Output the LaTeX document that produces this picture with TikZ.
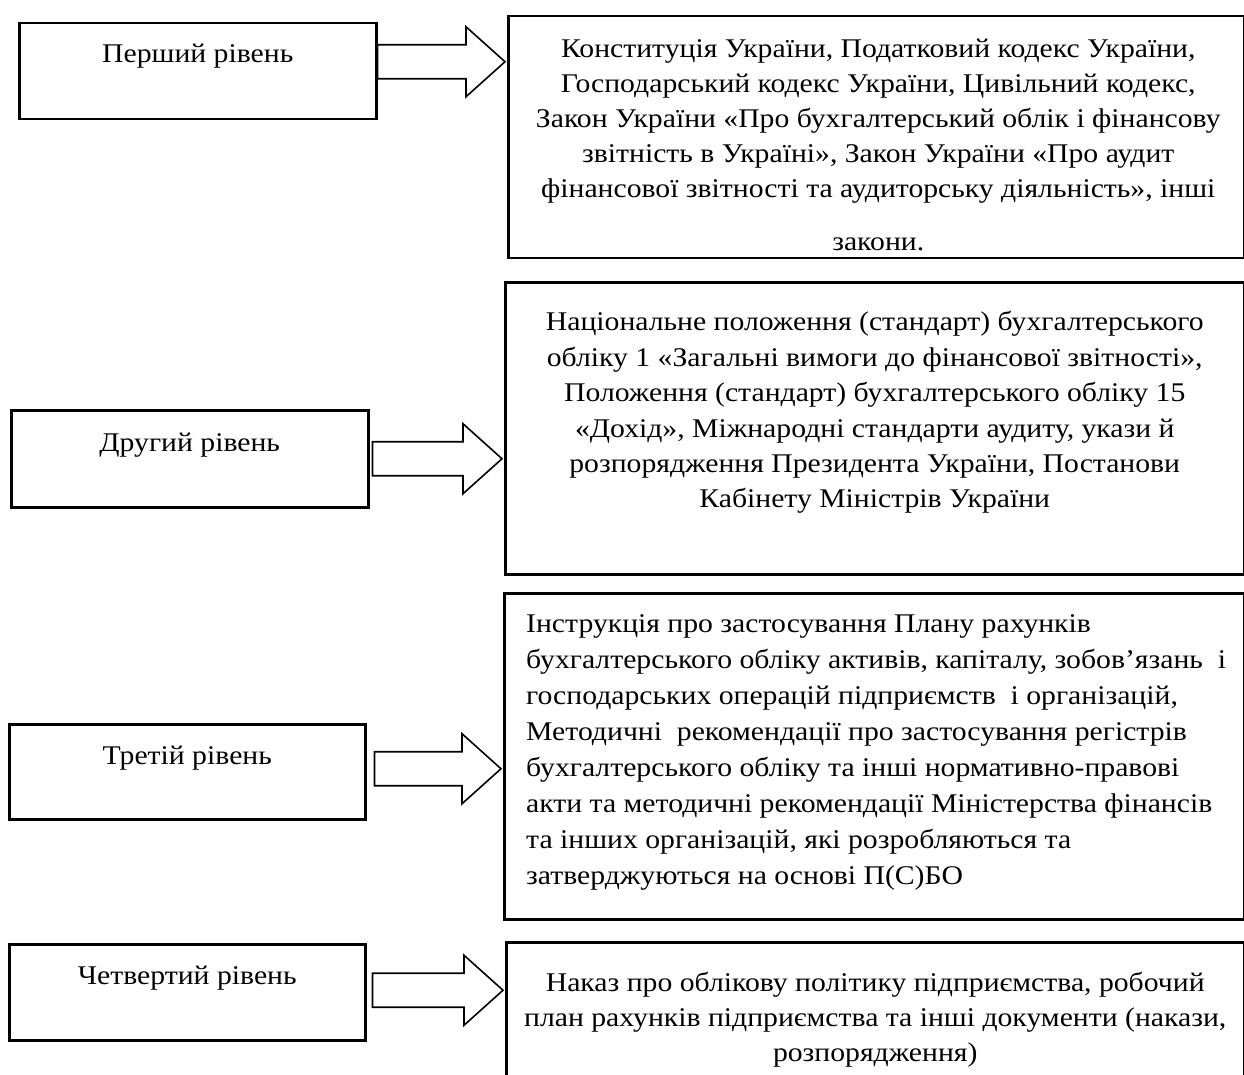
\documentclass[tikz,border=0pt]{standalone}
\usepackage{fontspec}
\setmainfont{Liberation Serif}[FakeStretch=1.1]
\usetikzlibrary{calc}
\tikzset{
  lvlbox/.style={draw, line width=2.5pt, rectangle, inner sep=0pt, anchor=north west},
  lvltext/.style={font=\fontsize{27}{35}\selectfont, inner sep=0pt, anchor=base},
  doctext/.style={inner sep=0pt, anchor=north, align=center},
  arr/.style={draw, line width=1.6pt, line join=miter},
}
\newcommand\mkarrow[4]{%
  \coordinate (#1s) at ($(#1.east)+(#4,#3)$);
  \coordinate (#1t) at (#2.west |- #1s);
  \draw[arr] ($(#1s)+(0,-17)$) -- ($(#1t)+(-41,-17)$) -- ($(#1t)+(-41,-35)$)
     -- ($(#1t)+(-2,0)$) -- ($(#1t)+(-41,35)$) -- ($(#1t)+(-41,17)$)
     -- ($(#1s)+(0,17)$) -- cycle;}
\begin{document}
\begin{tikzpicture}[x=1pt,y=-1pt]
\useasboundingbox (0,0) rectangle (1244,1075);
\clip (0,0) rectangle (1244,1075);
\fill[white] (0,0) rectangle (1244,1075);

% left level boxes
\node[lvlbox, minimum width=357pt, minimum height=96pt] (l1) at (18,22) {};
\node[lvlbox, minimum width=357pt, minimum height=97pt] (l2) at (10,409) {};
\node[lvlbox, minimum width=356pt, minimum height=95pt] (l3) at (8,723) {};
\node[lvlbox, minimum width=356pt, minimum height=96pt] (l4) at (8,943) {};

\node[lvltext] (l1t) at ($(l1.north)+(0,41)$) {Перший рівень};
\node[lvltext] (l2t) at ($(l2.north)+(0,42)$) {Другий рівень};
\node[lvltext] (l3t) at ($(l3.north)+(0,41)$) {Третій рівень};
\node[lvltext] (l4t) at ($(l4.north)+(0,41)$) {Четвертий рівень};

% right content boxes
\node[lvlbox, minimum width=736pt, minimum height=242pt] (r1) at (507,15) {};
\node[lvlbox, minimum width=739pt, minimum height=292pt] (r2) at (504,281) {};
\node[lvlbox, minimum width=740pt, minimum height=326pt] (r3) at (503,592) {};
\node[lvlbox, minimum width=738pt, minimum height=170pt] (r4) at (505,941) {};

\node[doctext, font=\fontsize{27}{35}\selectfont] (r1t) at ($(r1.north)+(2,18)$) {\strut Конституція України, Податковий кодекс України,\\
Господарський кодекс України, Цивільний кодекс,\\
Закон України «Про бухгалтерський облік і фінансову\\
звітність в Україні», Закон України «Про аудит\\
фінансової звітності та аудиторську діяльність», інші\\[18pt]
закони.};

\node[doctext, font=\fontsize{27}{35.4}\selectfont] (r2t) at ($(r2.north)+(0,25)$) {\strut Національне положення (стандарт) бухгалтерського\\
обліку 1 «Загальні вимоги до фінансової звітності»,\\
Положення (стандарт) бухгалтерського обліку 15\\
«Дохід», Міжнародні стандарти аудиту, укази й\\
розпорядження Президента України, Постанови\\
Кабінету Міністрів України};

\node[doctext, align=left, anchor=north west, font=\fontsize{27}{36}\selectfont] (r3t) at ($(r3.north west)+(23,15)$) {\strut Інструкція про застосування Плану рахунків\\
бухгалтерського обліку активів, капіталу, зобов’язань\ \ і\\
господарських операцій підприємств\ \ і організацій,\\
Методичні\ \ рекомендації про застосування регістрів\\
бухгалтерського обліку та інші нормативно-правові\\
акти та методичні рекомендації Міністерства фінансів\\
та інших організацій, які розробляються та\\
затверджуються на основі П(С)БО};

\node[doctext, font=\fontsize{27}{35}\selectfont] (r4t) at ($(r4.north)+(0,26)$) {\strut Наказ про облікову політику підприємства, робочий\\
план рахунків підприємства та інші документи (накази,\\
розпорядження)};

% block arrows
\mkarrow{l1}{r1}{-9.5}{0}
\mkarrow{l2}{r2}{0}{3}
\mkarrow{l3}{r3}{-3}{8}
\mkarrow{l4}{r4}{-2}{6}
\end{tikzpicture}
\end{document}
